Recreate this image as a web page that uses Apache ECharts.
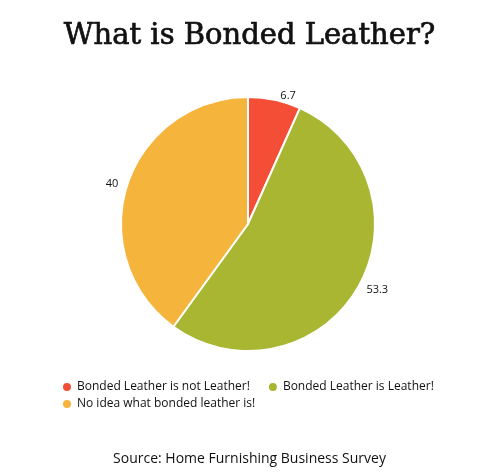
<!DOCTYPE html>
<html>
<head>
<meta charset="utf-8">
<script src="https://cdn.jsdelivr.net/npm/echarts@6/dist/echarts.min.js"></script>
<style>
html,body{margin:0;padding:0;background:#fff;}
#c{width:499px;height:476px;}
</style>
</head>
<body>
<div id="c"></div>
<script>
const categories = ["Bonded Leather is not Leather!", "Bonded Leather is Leather!", "No idea what bonded leather is!"];
const values = [6.7, 53.3, 40];
const colors = ["#F44E37", "#A9B631", "#F5B43C"];

const legendBase = {
  left: 56,
  icon: 'circle',
  itemWidth: 10,
  itemHeight: 10,
  itemGap: 17,
  textStyle: {fontFamily: 'Open Sans', fontSize: 12, color: '#111'}
};

const chart = echarts.init(document.getElementById('c'), null, {renderer: 'canvas'});
chart.setOption({
  animation: false,
  backgroundColor: '#ffffff',
  title: [{
    text: 'What is Bonded Leather?',
    left: 'center',
    top: 17,
    textStyle: {fontFamily: 'DejaVu Serif', fontWeight: 'normal', fontSize: 29, color: '#111', textBorderColor: '#111', textBorderWidth: 0.7}
  }, {
    text: 'Source: Home Furnishing Business Survey',
    left: 'center',
    top: 447,
    textStyle: {fontFamily: 'Open Sans', fontWeight: 'normal', fontSize: 14, color: '#111'}
  }],
  legend: [
    Object.assign({}, legendBase, {top: 376, data: categories.slice(0, 2)}),
    Object.assign({}, legendBase, {top: 393, data: categories.slice(2)})
  ],
  series: [{
    type: 'pie',
    center: [248, 224],
    radius: 127,
    startAngle: 90,
    clockwise: true,
    data: categories.map((n, i) => ({name: n, value: values[i], itemStyle: {color: colors[i]}})),
    itemStyle: {borderColor: '#fff', borderWidth: 2},
    label: {show: true, position: 'outside', formatter: '{c}', fontFamily: 'Open Sans', fontSize: 11, color: '#111'},
    labelLine: {show: false, length: 4, length2: 0},
    emphasis: {disabled: true}
  }]
});
</script>
</body>
</html>
